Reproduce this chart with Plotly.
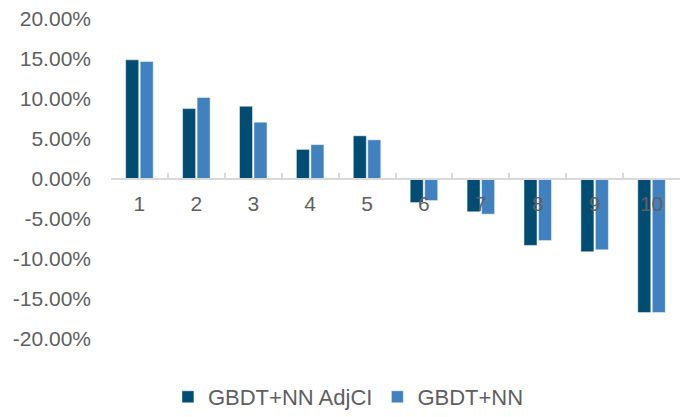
import plotly.graph_objects as go

categories = ["1", "2", "3", "4", "5", "6", "7", "8", "9", "10"]
adjci = [14.9, 8.8, 9.1, 3.7, 5.4, -2.95, -4.1, -8.3, -9.1, -16.7]
base = [14.7, 10.2, 7.1, 4.3, 4.9, -2.7, -4.4, -7.7, -8.85, -16.7]
y_ticks = [20, 15, 10, 5, 0, -5, -10, -15, -20]
y_tick_labels = ["20.00%", "15.00%", "10.00%", "5.00%", "0.00%", "-5.00%", "-10.00%", "-15.00%", "-20.00%"]

FONT = "Liberation Sans, Arial, sans-serif"
GRAY = "#606060"

fig = go.Figure()
fig.add_trace(go.Bar(x=categories, y=adjci, name="GBDT+NN AdjCI",
                     marker=dict(color="#004C72", line=dict(color="white", width=0.5))))
fig.add_trace(go.Bar(x=categories, y=base, name="GBDT+NN",
                     marker=dict(color="#4281C0", line=dict(color="white", width=0.5))))

fig.update_layout(
    width=690, height=417,
    margin=dict(l=111, r=10, t=19, b=78, autoexpand=False),
    paper_bgcolor="white", plot_bgcolor="white",
    barmode="group", bargap=0.49, bargroupgap=0.1,
    font=dict(family=FONT, size=21, color=GRAY),
    legend=dict(orientation="h", xref="container", x=0.505, xanchor="center",
                yref="container", y=0.048, yanchor="middle",
                font=dict(family=FONT, size=22, color=GRAY), traceorder="normal"),
    xaxis=dict(type="category", anchor="free", position=0.5, automargin=False,
               showline=True, linecolor="#D9D9D9", linewidth=2,
               ticks="inside", tickson="boundaries", ticklen=5, tickcolor="#D9D9D9", tickwidth=1.5,
               tickfont=dict(family=FONT, size=21, color=GRAY),
               ticklabelstandoff=6, showgrid=False, zeroline=False),
    yaxis=dict(range=[-20, 20], tickvals=y_ticks, ticktext=y_tick_labels, automargin=False,
               showgrid=False, zeroline=False, showline=False,
               tickfont=dict(family=FONT, size=21, color=GRAY),
               ticklabelstandoff=19),
)

fig.write_html("out.html", config={"displayModeBar": False},
               post_script="document.body.style.margin='0';document.body.style.overflow='hidden';")
